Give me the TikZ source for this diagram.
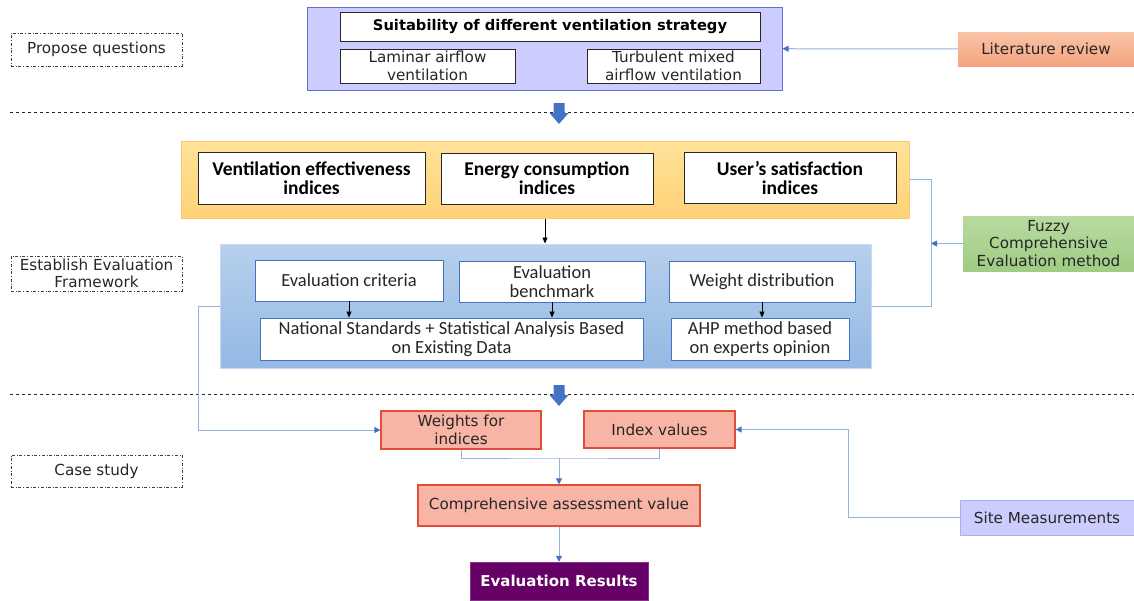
\documentclass[tikz,border=0pt]{standalone}
\usepackage{fontspec}
\setmainfont{DejaVu Sans}
\newfontfamily\narrowfont{Carlito}
\usetikzlibrary{arrows.meta}
\definecolor{lilac}{RGB}{204,204,255}
\definecolor{lilacline}{RGB}{96,116,205}
\definecolor{litTop}{RGB}{249,195,165}
\definecolor{litBot}{RGB}{244,164,128}
\definecolor{yelTop}{RGB}{255,226,152}
\definecolor{yelBot}{RGB}{255,210,120}
\definecolor{yelline}{RGB}{250,200,110}
\definecolor{bluTop}{RGB}{183,208,237}
\definecolor{bluBot}{RGB}{148,185,227}
\definecolor{bluline}{RGB}{200,218,240}
\definecolor{innerline}{RGB}{68,114,196}
\definecolor{salmon}{RGB}{248,180,164}
\definecolor{salmonline}{RGB}{224,78,58}
\definecolor{grnTop}{RGB}{184,218,160}
\definecolor{grnBot}{RGB}{160,204,132}
\definecolor{linkblue}{RGB}{150,178,225}
\definecolor{tipblue}{RGB}{68,114,196}
\definecolor{plum}{RGB}{102,0,102}
\definecolor{ink}{RGB}{38,38,38}

\tikzset{
  txt/.style={font=\fontsize{15.2}{17.5}\selectfont, text=ink},
  nar/.style={font=\narrowfont\fontsize{18.5}{18.5}\selectfont, text=ink},
  narb/.style={font=\narrowfont\bfseries\fontsize{19.5}{19}\selectfont, text=black},
  group/.style={rectangle, inner sep=0pt, line width=1pt},
  wbox/.style={rectangle, draw=black!85, fill=white, inner sep=0pt, align=center, line width=1pt},
  ibox/.style={rectangle, draw=innerline, fill=white, inner sep=0pt, align=center, line width=0.9pt, nar},
  rbox/.style={rectangle, draw=salmonline, fill=salmon, inner sep=0pt, align=center, line width=1.2pt, txt},
  stage/.style={rectangle, draw=black!75, dash dot, line width=0.7pt, inner sep=0pt,
                minimum width=171pt, align=center, txt},
  link/.style={draw=linkblue, line width=1pt},
  flow/.style={link, -{Triangle[length=6pt,width=6pt,color=tipblue]}},
  dark/.style={draw=black, line width=0.8pt, -{Triangle[length=6pt,width=5pt]}},
  sepline/.style={draw=black!85, dashed, line width=0.9pt}
}

\begin{document}
\begin{tikzpicture}[x=1pt, y=-1pt]
    \useasboundingbox (0,0) rectangle (1134,600);

    % stages on the left
    \node[stage, minimum height=33pt] (propose) at (96.5,49.5) {Propose questions};
    \node[stage, minimum height=35pt] (establish) at (96.5,273.5) {Establish Evaluation\\Framework};
    \node[stage, minimum height=32pt] (case) at (96.5,471) {Case study};

    % question block
    \node[group, draw=lilacline, fill=lilac, minimum width=475pt, minimum height=83pt] (grpQ) at (544.5,48.5) {};
    \node[wbox, minimum width=420pt, minimum height=29pt, font=\bfseries\fontsize{14.7}{16}\selectfont, text=black] (suit) at (550,26.5) {Suitability of different ventilation strategy};
    \node[wbox, txt, minimum width=175pt, minimum height=34pt] (laminar) at (427.5,66) {Laminar airflow\\ventilation};
    \node[wbox, txt, minimum width=173pt, minimum height=34pt] (turbulent) at (673.5,66) {Turbulent mixed\\airflow ventilation};
    \node[rectangle, inner sep=0pt, top color=litTop, bottom color=litBot, minimum width=176pt, minimum height=34pt, txt] (lit) at (1046,49) {Literature review};

    \draw[sepline] (10,112) -- (1134,112);
    \draw[sepline] (10,394) -- (1134,394);

    % indices block
    \node[group, draw=yelline, top color=yelTop, bottom color=yelBot, minimum width=728pt, minimum height=77pt] (grpI) at (545,179.5) {};
    \node[wbox, narb, minimum width=227pt, minimum height=52pt] (vent) at (311.5,178) {Ventilation effectiveness\\indices};
    \node[wbox, narb, minimum width=212pt, minimum height=51pt] (energy) at (547,178.5) {Energy consumption\\indices};
    \node[wbox, narb, minimum width=212pt, minimum height=51pt] (user) at (790,177.5) {User’s satisfaction\\indices};

    % framework block
    \node[group, draw=bluline, top color=bluTop, bottom color=bluBot, minimum width=651pt, minimum height=124pt] (grpF) at (545.5,306) {};
    \node[ibox, minimum width=188pt, minimum height=41pt] (crit) at (349,280.5) {Evaluation criteria};
    \node[ibox, minimum width=186pt, minimum height=41pt] (bench) at (552,281.5) {Evaluation\\benchmark};
    \node[ibox, minimum width=186pt, minimum height=41pt] (weight) at (762,281.5) {Weight distribution};
    \node[ibox, minimum width=383pt, minimum height=42pt] (natl) at (451.5,339) {National Standards + Statistical Analysis Based\\on Existing Data};
    \node[ibox, minimum width=178pt, minimum height=42pt] (ahp) at (760,339) {AHP method based\\on experts opinion};
    \node[rectangle, inner sep=0pt, top color=grnTop, bottom color=grnBot, minimum width=171pt, minimum height=55pt, txt, align=center] (fuzzy) at (1048.5,243.5) {Fuzzy\\Comprehensive\\Evaluation method};

    % case study block
    \node[rbox, minimum width=160pt, minimum height=38pt] (wts) at (461,430) {Weights for\\indices};
    \node[rbox, minimum width=151pt, minimum height=37pt] (idx) at (659.5,429.5) {Index values};
    \node[rbox, minimum width=282pt, minimum height=41pt] (comp) at (559,505.5) {Comprehensive assessment value};
    \node[rectangle, draw=lilac!70!innerline, fill=lilac, line width=0.8pt, inner sep=0pt, minimum width=174pt, minimum height=35pt, txt] (site) at (1047,517.5) {Site Measurements};
    \node[rectangle, draw=plum!80!white, fill=plum, inner sep=0pt, minimum width=178pt, minimum height=38pt, text=white, font=\bfseries\fontsize{15}{16}\selectfont] (res) at (559,581) {Evaluation Results};

    % big arrows between stages
    \fill[tipblue] (553.5,103) -- (564.5,103) -- (564.5,113) -- (568.5,113) -- (559,124) -- (549.5,113) -- (553.5,113) -- cycle;
    \fill[tipblue] (553.5,385) -- (564.5,385) -- (564.5,395) -- (568.5,395) -- (559,406) -- (549.5,395) -- (553.5,395) -- cycle;

    \coordinate (fz) at (931,243.5);
    \coordinate (fl) at (198,430);
    \coordinate (sm) at (848,429.5);
    \coordinate (mg) at (559,458);

    \path (lit) edge[flow] (grpQ)
          (grpI.south) edge[dark] (grpI.south |- grpF.north)
          (crit.south) edge[dark] (crit.south |- natl.north)
          (bench.south) edge[dark] (bench.south |- natl.north)
          (weight.south) edge[dark] (weight.south |- ahp.north)
          (fuzzy) edge[flow] (fz)
          (mg) edge[flow] (comp)
          (comp) edge[flow] (res);
    \draw[link] (grpI.east) -| (fz) |- (grpF.east);
    \draw[flow] (grpF.west) -| (fl) -- (wts.west);
    \draw[flow] (site.west) -| (sm) -- (idx.east);
    \draw[link] (wts.south) |- (mg) -| (idx.south);
\end{tikzpicture}
\end{document}
